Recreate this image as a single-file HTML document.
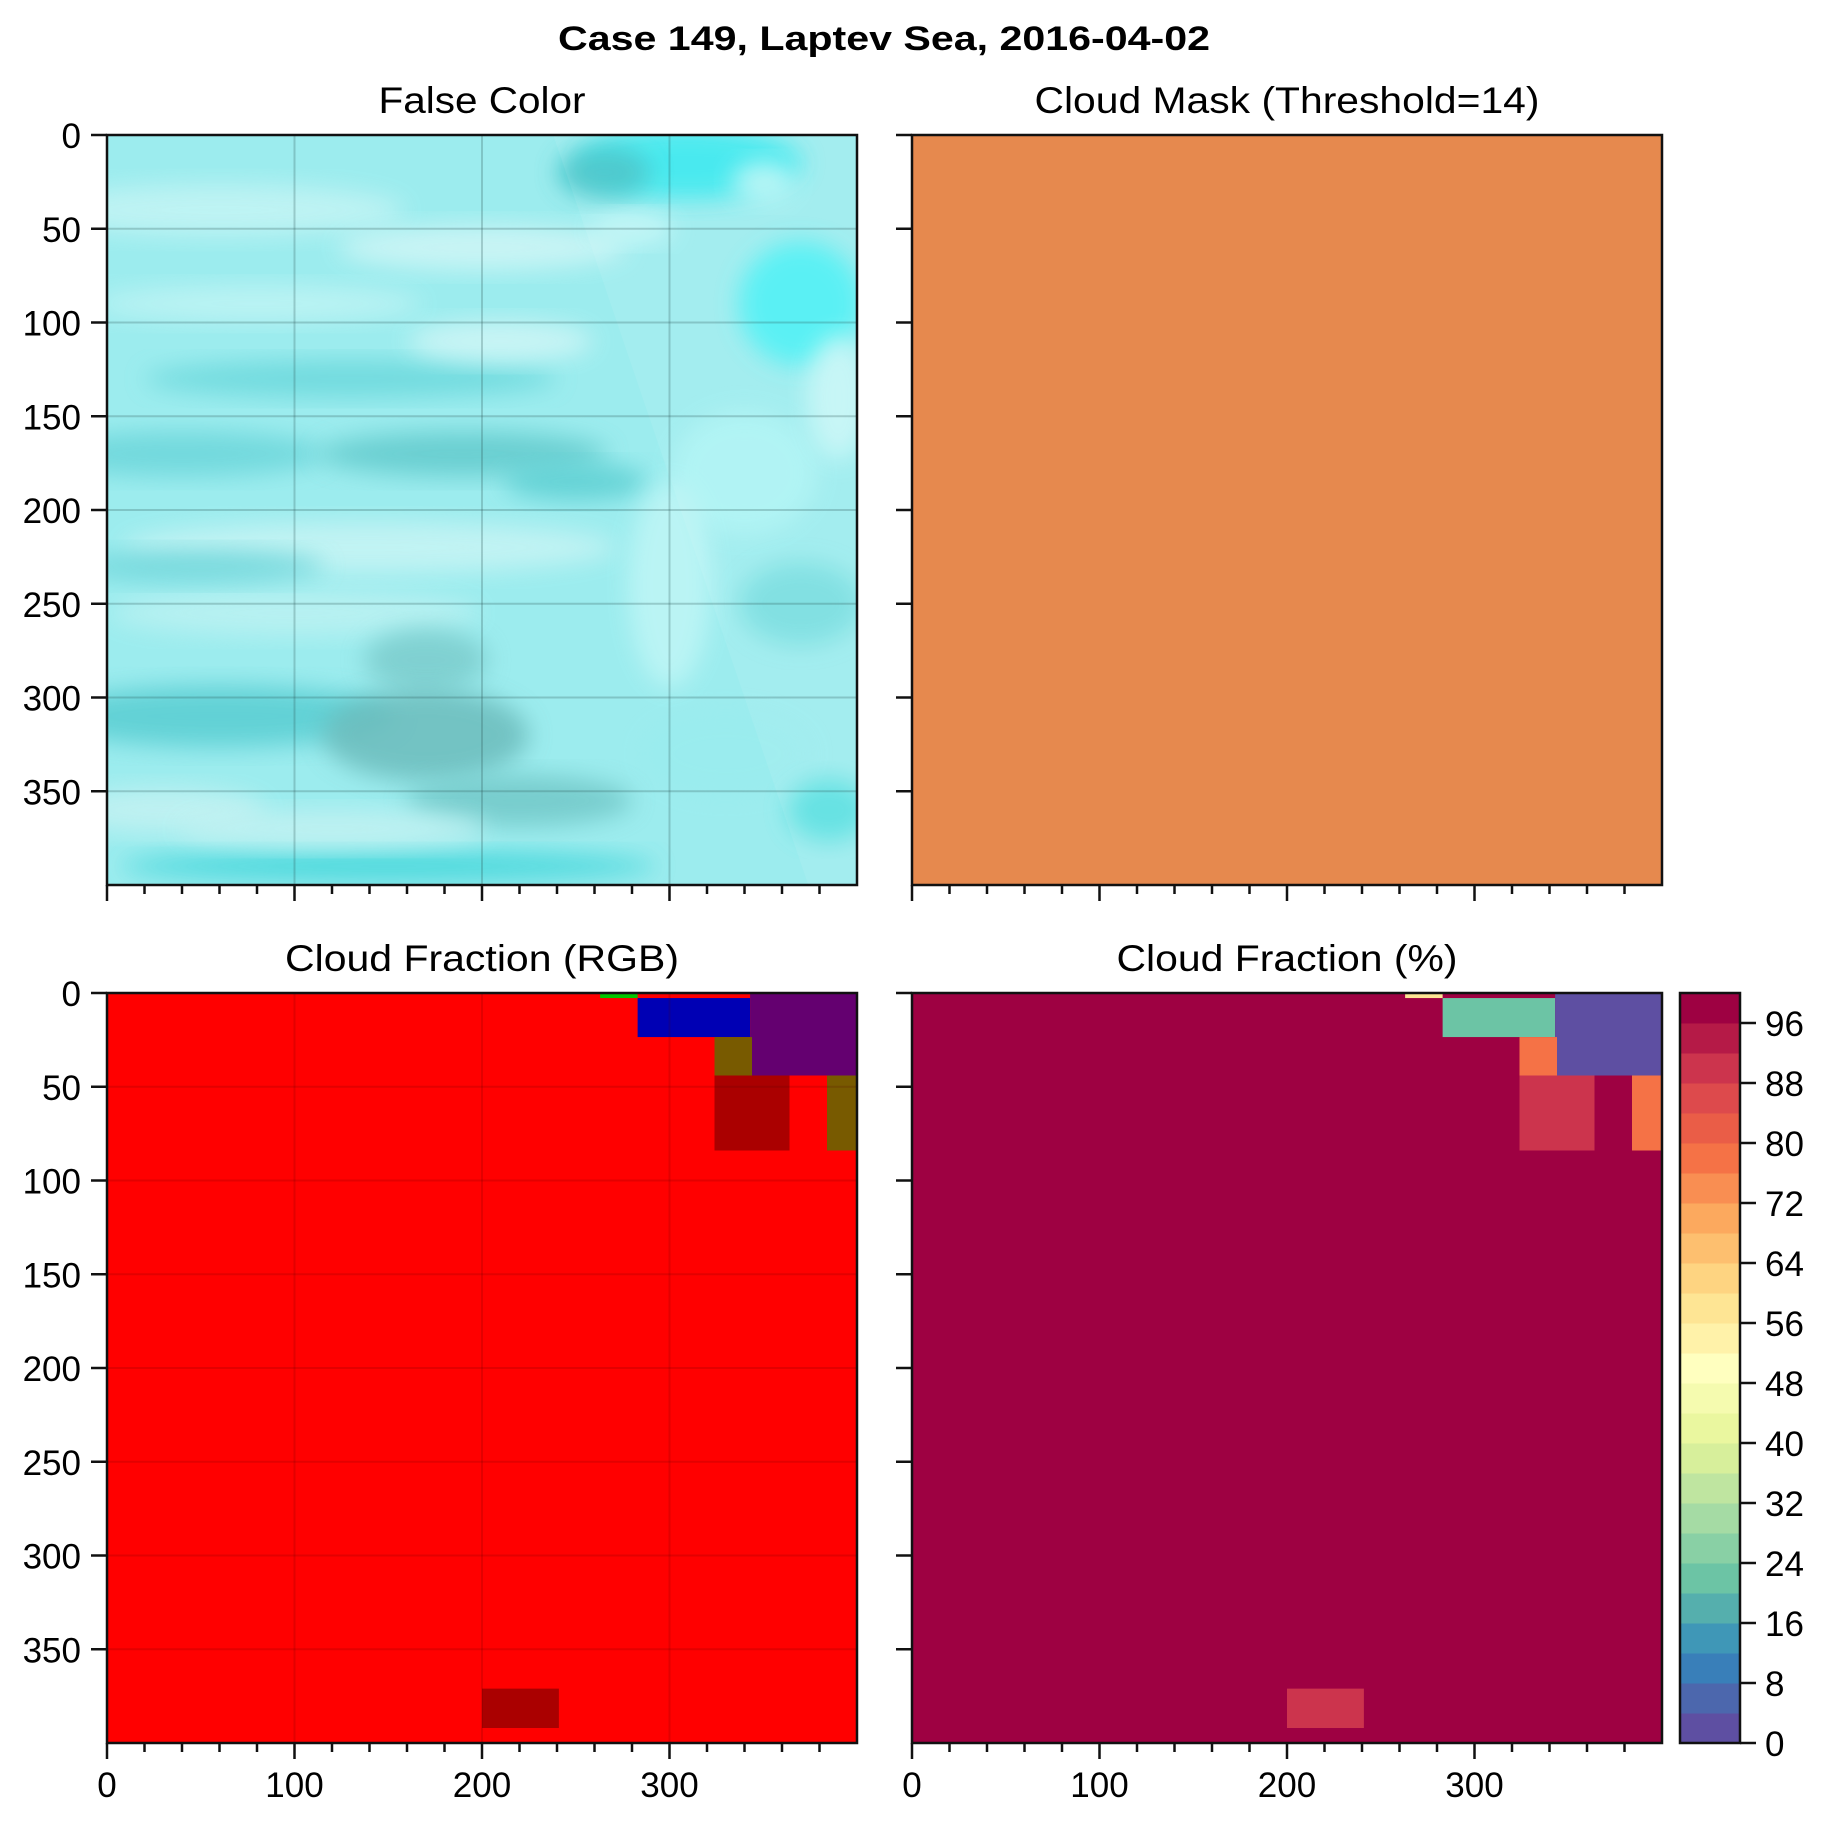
<!DOCTYPE html>
<html><head><meta charset="utf-8"><style>
html,body{margin:0;padding:0;background:#fff;}
svg{display:block;font-family:"Liberation Sans",Arial,sans-serif;}
</style></head><body>
<svg id="fig" width="1825" height="1823" viewBox="0 0 1825 1823" xmlns="http://www.w3.org/2000/svg">
<defs>
<filter id="blur8" x="-30%" y="-30%" width="160%" height="160%"><feGaussianBlur stdDeviation="12"/></filter>
<clipPath id="clipFC"><rect x="107" y="135" width="750" height="750"/></clipPath>
</defs>
<text x="884" y="50" font-size="34" font-weight="bold" text-anchor="middle" textLength="652" lengthAdjust="spacingAndGlyphs">Case 149, Laptev Sea, 2016-04-02</text>
<g id="fc"></g>
<g id="layer"></g>
</svg>
<script>
// ---- data ----
const xTicks = [0, 100, 200, 300];
const yTicks = [0, 50, 100, 150, 200, 250, 300, 350];
const cbTicks = [0, 8, 16, 24, 32, 40, 48, 56, 64, 72, 80, 88, 96];
const cbLevels = 25;
// cloud fraction blocks: [x0, x1, y0, y1] in data units, and values (%)
const blockX0 = [263, 283, 343, 324, 324, 384, 200];
const blockX1 = [283, 343, 400, 344, 364, 400, 241];
const blockY0 = [0, 2.7, 0, 23.5, 44, 44, 371];
const blockY1 = [2.7, 23.5, 44, 44, 84, 84, 392];
const blockPct = [56, 22, 2, 78, 90, 78, 90];
const blockRGB = ['#00c800', '#0000b4', '#640070', '#785a00', '#aa0000', '#785a00', '#aa0000'];
const basePct = 98;
const maskColor = '#e6894e';

const NS = 'http://www.w3.org/2000/svg';
const layer = document.getElementById('layer');
const S = 750 / 400;
const panels = [
  {x: 107, y: 135, name: 'false-color', title: 'False Color', tl: 207, xl: false, yl: true},
  {x: 912, y: 135, name: 'cloud-mask', title: 'Cloud Mask (Threshold=14)', tl: 505, xl: false, yl: false},
  {x: 107, y: 993, name: 'cloud-fraction-rgb', title: 'Cloud Fraction (RGB)', tl: 394, xl: true, yl: true},
  {x: 912, y: 993, name: 'cloud-fraction-pct', title: 'Cloud Fraction (%)', tl: 341, xl: true, yl: false}
];
function el(tag, attrs, parent) {
  const e = document.createElementNS(NS, tag);
  for (const k in attrs) e.setAttribute(k, attrs[k]);
  (parent || layer).appendChild(e);
  return e;
}
function sx(p, v) { return p.x + v * S; }
function sy(p, v) { return p.y + v * S; }

const spec = ['#9e0142','#d53e4f','#f46d43','#fdae61','#fee08b','#ffffbf','#e6f598','#abdda4','#66c2a5','#3288bd','#5e4fa2'];
function hex(h){return [parseInt(h.substr(1,2),16),parseInt(h.substr(3,2),16),parseInt(h.substr(5,2),16)];}
function cmap(t){
  const u = (1 - t) * 10; const i = Math.min(9, Math.floor(u)); const f = u - i;
  const a = hex(spec[i]), b = hex(spec[i+1]);
  return 'rgb(' + a.map((v,k)=>Math.round(v+(b[k]-v)*f)).join(',') + ')';
}
function binColor(i){ return cmap(i/(cbLevels-1)); }
function pctColor(v){ const bin = Math.min(cbLevels-1, Math.floor(v/4)); return binColor(bin); }

// ---- false color panel ----
(function(){
  const p = panels[0];
  const g = document.getElementById('fc');
  g.setAttribute('clip-path','url(#clipFC)');
  el('rect',{x:p.x,y:p.y,width:750,height:750,fill:'#9cecee'},g);
  const blobs = [
    [60,40,180,25,'#c4f4f4'],[200,60,140,22,'#d0f6f6'],[130,130,200,18,'#6ad8dc'],
    [40,170,140,22,'#6cd6da'],[190,170,140,22,'#62cacc'],[250,185,70,18,'#5ccfd2'],
    [140,220,240,25,'#c8f4f4'],[100,255,180,22,'#bcf2f2'],[170,280,60,30,'#7ccccc'],
    [60,310,170,30,'#58cdd2'],[170,320,100,45,'#6cbcbc'],[220,355,110,25,'#72c8c8'],
    [150,390,260,15,'#3fd6da'],[210,110,90,20,'#d0f6f6'],[30,360,100,22,'#c4f2f2'],
    [80,90,160,18,'#c0f4f4'],[50,230,120,16,'#70d6da'],[120,370,150,18,'#c4f2f2'],
    [310,15,110,35,'#2ce8ee'],[370,90,60,60,'#40f0f4'],[265,20,45,25,'#40c0c4'],
    [280,50,40,15,'#c6f8f8'],[350,25,30,20,'#c0f6f6'],
    [340,180,70,60,'#aef4f4'],[370,250,60,40,'#72dcde'],[330,330,80,40,'#9aecee'],
    [385,360,40,30,'#50dedf'],[300,240,40,100,'#c0f6f6'],[390,140,30,60,'#caf8f8']
  ];
  blobs.forEach(b=>{
    el('ellipse',{cx:sx(p,b[0]),cy:sy(p,b[1]),rx:b[2]*S*0.55,ry:b[3]*S*0.55,fill:b[4],opacity:0.85,filter:'url(#blur8)'},g);
  });
  el('polygon',{points:[sx(p,238)+','+p.y, sx(p,400)+','+p.y, sx(p,400)+','+(p.y+750), sx(p,374)+','+(p.y+750)].join(' '),fill:'#ffffff',opacity:0.08},g);
})();

// ---- cloud mask ----
(function(){
  const p = panels[1];
  const r = el('rect',{x:p.x,y:p.y,width:750,height:750,fill:maskColor});
  
  
})();

// ---- cloud fraction RGB & % ----
(function(){
  const pR = panels[2], pP = panels[3];
  const b1 = el('rect',{x:pR.x,y:pR.y,width:750,height:750,fill:'#ff0000'});
  
  
  const b2 = el('rect',{x:pP.x,y:pP.y,width:750,height:750,fill:pctColor(basePct)});
  
  
  for (let i = 0; i < blockPct.length; i++) {
    const a = el('rect',{x:sx(pR,blockX0[i]),y:sy(pR,blockY0[i]),width:(blockX1[i]-blockX0[i])*S,height:(blockY1[i]-blockY0[i])*S,fill:blockRGB[i]});
    
    
    const b = el('rect',{x:sx(pP,blockX0[i]),y:sy(pP,blockY0[i]),width:(blockX1[i]-blockX0[i])*S,height:(blockY1[i]-blockY0[i])*S,fill:pctColor(blockPct[i])});
    
    
  }
})();

// ---- axes ----
panels.forEach((p, idx) => {
  if (idx === 0 || idx === 2) {
    const gc = idx === 0 ? 'rgba(40,80,80,0.25)' : 'rgba(80,0,0,0.16)';
    xTicks.forEach(t => { if (t>0) el('line',{x1:sx(p,t),y1:p.y,x2:sx(p,t),y2:p.y+750,stroke:gc,'stroke-width':2}); });
    yTicks.forEach(t => { if (t>0) el('line',{x1:p.x,y1:sy(p,t),x2:p.x+750,y2:sy(p,t),stroke:gc,'stroke-width':2}); });
  }
  const frame = el('rect',{x:p.x,y:p.y,width:750,height:750,fill:'none',stroke:'#111','stroke-width':2.5});
  
  
  const t = el('text',{x:p.x+375,y:p.y-22,'font-size':37,'text-anchor':'middle',textLength:p.tl,lengthAdjust:'spacingAndGlyphs'});
  t.textContent = p.title;
  
  
  for (let m = 0; m < 400; m += 20) {
    const major = xTicks.indexOf(m) >= 0;
    el('line',{x1:sx(p,m),y1:p.y+750,x2:sx(p,m),y2:p.y+750+(major?16:9),stroke:'#111','stroke-width':2.5});
  }
  if (p.xl) xTicks.forEach(v => {
    const tx = el('text',{x:sx(p,v),y:p.y+750+54,'font-size':35,'text-anchor':'middle'});
    tx.textContent = v;
    
    
  });
  yTicks.forEach(v => {
    el('line',{x1:p.x-16,y1:sy(p,v),x2:p.x,y2:sy(p,v),stroke:'#111','stroke-width':2.5});
    if (p.yl) {
      const ty = el('text',{x:p.x-26,y:sy(p,v)+13,'font-size':35,'text-anchor':'end'});
      ty.textContent = v;
      
      
    }
  });
});

// ---- colorbar ----
(function(){
  const cx = 1680, cw = 60, cy0 = 993, ch = 750;
  const bh = ch / cbLevels;
  for (let i = 0; i < cbLevels; i++) {
    const r = el('rect',{x:cx,y:cy0+ch-(i+1)*bh,width:cw,height:bh+0.5,fill:binColor(i)});
    
    
  }
  const f = el('rect',{x:cx,y:cy0,width:cw,height:ch,fill:'none',stroke:'#111','stroke-width':2.5});
  
  
  cbTicks.forEach(v => {
    const y = cy0 + ch - v/100*ch;
    el('line',{x1:cx+cw,y1:y,x2:cx+cw+16,y2:y,stroke:'#111','stroke-width':2.5});
    const t = el('text',{x:cx+cw+25,y:y+13,'font-size':35});
    t.textContent = v;
    
    
  });
})();
</script>
</body></html>
